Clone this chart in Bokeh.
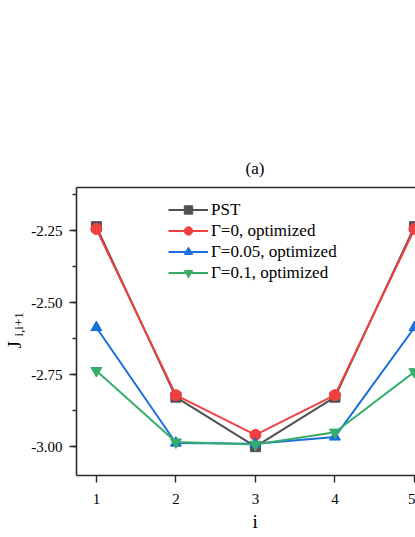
import math
from bokeh.plotting import figure
from bokeh.layouts import row
from bokeh.models import (Range1d, LinearAxis, FixedTicker, SingleIntervalTicker,
                          NumeralTickFormatter, Label, Title)
from bokeh.embed import file_html
from bokeh.resources import INLINE

# ---- data ----
site = [1, 2, 3, 4, 5]
pst = [-2.236, -2.828, -3.000, -2.828, -2.236]
gamma0 = [-2.244, -2.821, -2.959, -2.821, -2.244]
gamma005 = [-2.586, -2.987, -2.990, -2.966, -2.586]
gamma01 = [-2.736, -2.984, -2.992, -2.950, -2.740]
series_labels = ["PST", "Γ=0, optimized", "Γ=0.05, optimized", "Γ=0.1, optimized"]
colors = ["#515151", "#F14040", "#1A6FDF", "#37AD6B"]
markers = ["square", "circle", "triangle", "inverted_triangle"]
x_ticks = [1, 2, 3, 4, 5]

FONT = "Liberation Serif"

# narrow strip holding the y-axis title J_{i,i+1}
lab = figure(width=25, height=537, output_backend="svg", toolbar_location=None,
             x_axis_location=None, y_axis_location=None, min_border=0,
             x_range=Range1d(0, 1), y_range=Range1d(0, 1))
lab.outline_line_color = None
lab.grid.visible = False
lab.add_layout(Label(x=14, y=127, x_units="screen", y_units="screen", text="J",
                     angle=math.pi / 2, text_align="left", text_baseline="alphabetic",
                     text_font=FONT, text_font_size="19px", text_color="black"))
lab.add_layout(Label(x=18, y=139, x_units="screen", y_units="screen", text="i,i+1",
                     angle=math.pi / 2, text_align="left", text_baseline="alphabetic",
                     text_font=FONT, text_font_size="13px", text_color="black"))

p = figure(width=390, height=537, output_backend="svg", toolbar_location=None,
           x_range=Range1d(0.75, 5.013), y_range=Range1d(-3.1, -2.1),
           min_border_left=51, min_border_right=0, min_border_top=187,
           min_border_bottom=62)
p.outline_line_color = None
p.xgrid.visible = False
p.ygrid.visible = False
p.background_fill_color = "white"

p.title.text = "(a)"
p.title.align = "left"
p.title.offset = 169
p.title.standoff = 19
p.title.text_font = FONT
p.title.text_font_size = "17px"
p.title.text_font_style = "normal"
p.title.text_color = "black"

p.add_layout(Title(text="i", align="left", offset=176, standoff=5,
                   text_font=FONT, text_font_size="19px", text_font_style="normal",
                   text_color="black"), "below")

for ys, lb, col, mk in zip([pst, gamma0, gamma005, gamma01], series_labels, colors, markers):
    p.line(site, ys, line_color=col, line_width=2, legend_label=lb)
    p.scatter(site, ys, marker=mk, size=11 if mk != "square" else 10,
              fill_color=col, line_color=col, legend_label=lb)

axis_color = "#2b2b2b"
for ax in (p.xaxis[0], p.yaxis[0]):
    ax.axis_line_width = 1.6
    ax.axis_line_color = axis_color
    ax.major_tick_line_color = axis_color
    ax.minor_tick_line_color = axis_color
    ax.major_tick_line_width = 1.4
    ax.minor_tick_line_width = 1.4
    ax.major_tick_in = 0
    ax.major_tick_out = 7
    ax.minor_tick_in = 0
    ax.minor_tick_out = 4
    ax.major_label_text_font = FONT
    ax.major_label_text_font_size = "15px"
    ax.major_label_text_color = "black"

p.xaxis[0].ticker = FixedTicker(ticks=x_ticks)
p.xaxis[0].minor_tick_line_color = None
p.xaxis[0].major_label_standoff = 11

p.yaxis[0].ticker = SingleIntervalTicker(interval=0.25, num_minor_ticks=2)
p.yaxis[0].formatter = NumeralTickFormatter(format="0.00")
p.yaxis[0].major_label_standoff = 7

top_axis = LinearAxis(ticker=FixedTicker(ticks=[]), axis_line_width=1.6,
                      axis_line_color=axis_color, major_tick_line_color=None,
                      minor_tick_line_color=None)
p.add_layout(top_axis, "above")

# legend
lg = p.legend[0]
lg.location = (92, 192)
lg.border_line_color = None
lg.background_fill_alpha = 0
lg.padding = 0
lg.margin = 0
lg.spacing = 0
lg.glyph_width = 40
lg.glyph_height = 21
lg.label_height = 21
lg.label_standoff = 3
lg.label_text_font = FONT
lg.label_text_font_size = "17px"
lg.label_text_color = "black"

layout = row(lab, p, spacing=0)
open("out.html", "w").write(file_html(layout, INLINE))
